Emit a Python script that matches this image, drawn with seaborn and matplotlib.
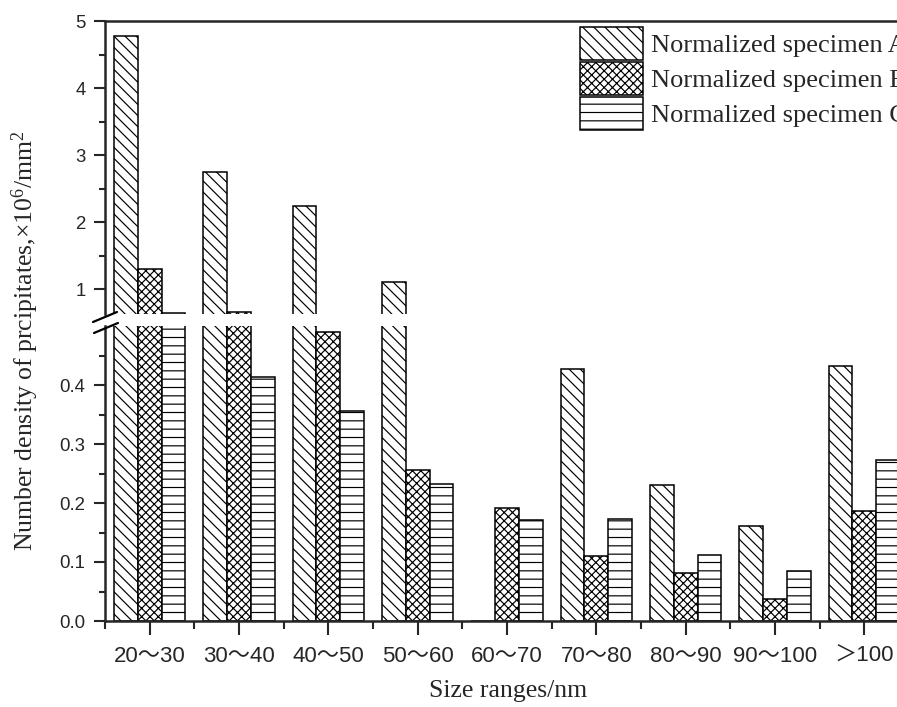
import numpy as np
import pandas as pd
import matplotlib
matplotlib.use("Agg")
import matplotlib.pyplot as plt
import seaborn as sns
from matplotlib.patches import Patch
from matplotlib.lines import Line2D
from matplotlib.ticker import FixedLocator, FormatStrFormatter

# Size classes and precipitate number densities (x10^6 / mm^2)
categories = ["20～30", "30～40", "40～50", "50～60", "60～70",
              "70～80", "80～90", "90～100", "＞100"]
specimen_a = [4.78, 2.75, 2.24, 1.10, 0.0, 0.427, 0.231, 0.161, 0.433]
specimen_b = [1.30, 0.655, 0.490, 0.256, 0.192, 0.110, 0.082, 0.037, 0.186]
specimen_c = [0.640, 0.414, 0.356, 0.232, 0.171, 0.173, 0.112, 0.084, 0.273]
series_names = ["Normalized specimen A", "Normalized specimen B",
                "Normalized specimen C"]
hatches = ["\\\\\\", "xxxx", "--"]

top_ticks = [1, 2, 3, 4, 5]
bottom_ticks = [0.0, 0.1, 0.2, 0.3, 0.4]

sns.set_style("ticks")
plt.rcParams.update({
    "font.family": ["Liberation Sans", "Noto Sans CJK SC"],
    "mathtext.fontset": "custom",
    "mathtext.rm": "Liberation Serif",
    "mathtext.it": "Liberation Serif:italic",
    "hatch.linewidth": 0.85,
    "axes.linewidth": 1.8,
})

df = pd.DataFrame({
    "size": categories * 3,
    "density": specimen_a + specimen_b + specimen_c,
    "specimen": [n for n in series_names for _ in categories],
})

W, H = 897, 707
fig = plt.figure(figsize=(W / 100, H / 100), dpi=100)
left, right = 105, 909
ax_top = fig.add_axes([left / W, 1 - 314 / H, (right - left) / W, (314 - 21) / H])
ax_bot = fig.add_axes([left / W, 1 - 621 / H, (right - left) / W, (621 - 326) / H])

for ax in (ax_top, ax_bot):
    sns.barplot(data=df, x="size", y="density", hue="specimen",
                order=categories, hue_order=series_names,
                palette=["white"] * 3, saturation=1, edgecolor="black",
                linewidth=1.1, errorbar=None, legend=False, ax=ax)
    for cont, h in zip(ax.containers, hatches):
        for bar in cont:
            bar.set_hatch(h)
    ax.set_xlim(-0.5, 8.5)
    ax.set_xlabel("")
    ax.set_ylabel("")
    ax.spines["right"].set_visible(False)
    ax.tick_params(axis="both", which="major", direction="out", length=8,
                   width=1.5, pad=6)
    ax.tick_params(axis="both", which="minor", direction="out", length=4.5,
                   width=1.5)

# upper panel
ax_top.set_ylim(0.627, 5)
ax_top.yaxis.set_major_locator(FixedLocator(top_ticks))
ax_top.yaxis.set_minor_locator(FixedLocator([1.5, 2.5, 3.5, 4.5]))
ax_top.yaxis.set_major_formatter(FormatStrFormatter("%d"))
ax_top.spines["bottom"].set_visible(False)
ax_top.tick_params(axis="x", which="both", bottom=False, labelbottom=False)
for lab in ax_top.get_yticklabels():
    lab.set_fontsize(13.4)

# lower panel
ax_bot.set_ylim(0, 0.5)
ax_bot.yaxis.set_major_locator(FixedLocator(bottom_ticks))
ax_bot.yaxis.set_minor_locator(FixedLocator([0.05, 0.15, 0.25, 0.35, 0.45]))
ax_bot.yaxis.set_major_formatter(FormatStrFormatter("%.1f"))
ax_bot.spines["top"].set_visible(False)
ax_bot.xaxis.set_minor_locator(FixedLocator(np.arange(-0.5, 9.0, 1.0)))
ax_bot.tick_params(axis="x", which="major", length=10, pad=8)
ax_bot.tick_params(axis="x", which="minor", length=5.5)
for lab in ax_bot.get_yticklabels():
    lab.set_fontsize(13.4)
for lab in ax_bot.get_xticklabels():
    lab.set_fontsize(16)
    lab.set_family(["Liberation Sans", "Noto Sans CJK SC"])

# axis-break marks on the left spine
def px(x, y):
    return x / W, 1 - y / H

for (x0, y0), (x1, y1) in [((93, 322), (117, 312)), ((94, 333), (118, 323))]:
    xa, ya = px(x0, y0)
    xb, yb = px(x1, y1)
    fig.add_artist(Line2D([xa, xb], [ya, yb], transform=fig.transFigure,
                          color="black", linewidth=1.6))

# axis titles
fig.text(25 / W, 1 - 341 / H,
         "Number density of prcipitates,×10$^{6}$/mm$^{2}$",
         rotation=90, ha="center", va="center", fontsize=18.5,
         family="Liberation Serif")
fig.text(508 / W, 1 - 691 / H, "Size ranges/nm", ha="center", va="center",
         fontsize=18.5, family="Liberation Serif")

handles = [Patch(facecolor="white", edgecolor="black", hatch=h, linewidth=1.1)
           for h in hatches]
fig.legend(handles, series_names, loc="upper left",
           bbox_to_anchor=(580 / W, 1 - 27 / H), frameon=False,
           borderpad=0, borderaxespad=0, handlelength=2.4, handleheight=1.52,
           handletextpad=0.3, labelspacing=0.1,
           prop={"family": "Liberation Serif", "size": 19})

fig.savefig("out.png", dpi=100)
